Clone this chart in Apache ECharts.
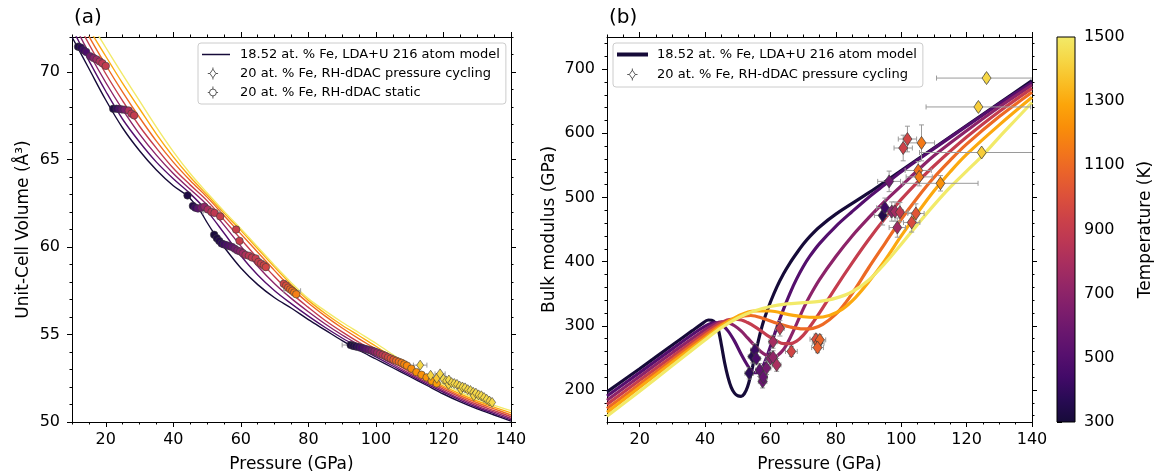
<!DOCTYPE html>
<html>
<head>
<meta charset="utf-8">
<title>Unit-cell volume and bulk modulus vs pressure</title>
<script src="https://cdn.jsdelivr.net/npm/echarts@6/dist/echarts.min.js"></script>
<style>
  html, body { margin: 0; padding: 0; background: #fff; }
  #main { width: 1158px; height: 476px; }
</style>
</head>
<body>
<div id="main"></div>
<script>
// model isotherm temperatures (K)
var temps = [300, 500, 700, 900, 1100, 1300, 1500];

// (a) LDA+U model isotherms, [P (GPa), V (Å^3)]
var volIso300 = [[10,72.0],[15,70.2],[20,68.4],[25,66.8],[30,65.5],[35,64.4],[40,63.5],[44,62.95],[46,62.55],[48,62.05],[50,61.4],[52,60.8],[55,60.0],[60,58.8],[65,57.85],[70,57.1],[75,56.5],[80,55.85],[85,55.25],[90,54.65],[95,54.1],[100,53.6],[105,53.1],[110,52.6],[115,52.1],[120,51.6],[125,51.15],[130,50.75],[135,50.4],[140,50.05]];
var volIso500 = [[10,72.5],[15,70.65],[20,68.9],[25,67.3],[30,66.0],[35,64.85],[40,63.9],[45,63.05],[50,62.05],[55,60.8],[60,59.5],[65,58.4],[70,57.5],[75,56.75],[80,56.05],[85,55.4],[90,54.8],[95,54.25],[100,53.72],[105,53.2],[110,52.68],[115,52.18],[120,51.7],[125,51.24],[130,50.83],[135,50.48],[140,50.12]];
var volIso700 = [[10,72.95],[15,71.1],[20,69.4],[25,67.85],[30,66.45],[35,65.25],[40,64.2],[45,63.3],[50,62.4],[55,61.25],[60,60.05],[65,58.9],[70,57.9],[75,57.05],[80,56.3],[85,55.6],[90,54.97],[95,54.4],[100,53.85],[105,53.3],[110,52.77],[115,52.26],[120,51.78],[125,51.32],[130,50.91],[135,50.56],[140,50.2]];
var volIso900 = [[10,73.45],[15,71.6],[20,69.9],[25,68.35],[30,66.9],[35,65.65],[40,64.5],[45,63.55],[50,62.65],[55,61.55],[60,60.45],[65,59.35],[70,58.3],[75,57.35],[80,56.55],[85,55.8],[90,55.15],[95,54.55],[100,54.0],[105,53.43],[110,52.87],[115,52.35],[120,51.87],[125,51.41],[130,51.0],[135,50.65],[140,50.3]];
var volIso1100 = [[10,73.95],[15,72.05],[20,70.4],[25,68.85],[30,67.4],[35,66.05],[40,64.85],[45,63.8],[50,62.85],[55,61.8],[60,60.75],[65,59.7],[70,58.65],[75,57.65],[80,56.8],[85,56.05],[90,55.37],[95,54.75],[100,54.17],[105,53.57],[110,52.98],[115,52.45],[120,51.96],[125,51.5],[130,51.1],[135,50.75],[140,50.4]];
var volIso1300 = [[10,74.4],[15,72.5],[20,70.9],[25,69.35],[30,67.9],[35,66.45],[40,65.15],[45,64.0],[50,62.98],[55,61.95],[60,60.95],[65,59.9],[70,58.85],[75,57.85],[80,56.95],[85,56.2],[90,55.53],[95,54.93],[100,54.33],[105,53.7],[110,53.08],[115,52.55],[120,52.05],[125,51.6],[130,51.2],[135,50.85],[140,50.52]];
var volIso1500 = [[10,74.9],[15,73.0],[20,71.4],[25,69.85],[30,68.35],[35,66.85],[40,65.45],[45,64.2],[50,63.1],[55,62.05],[60,61.05],[65,60.0],[70,58.95],[75,57.95],[80,57.05],[85,56.35],[90,55.7],[95,55.1],[100,54.5],[105,53.85],[110,53.2],[115,52.65],[120,52.15],[125,51.7],[130,51.3],[135,50.95],[140,50.65]];

// (b) LDA+U model isotherms, [P (GPa), K (GPa)]
var kIso300 = [[10,197],[20,233],[30,270],[36,292],[39,303],[41,309],[42,308.5],[43,305],[44,295],[45,270],[46,242],[47,220],[48,204],[49,195],[50,191],[51,190],[52,194],[53,205],[54,224],[55,247],[56,270],[57,291],[58,309],[60,337],[62,361],[64,381],[66,398],[68,413],[70,427],[72,439],[75,454],[80,474],[90,507],[100,542],[110,577],[120,612],[130,647],[140,682]];
var kIso500 = [[10,190.5],[20,227],[30,264],[38,293],[41,302],[43,305],[45,302],[47,292],[49,276],[51,256],[53,238],[54,231],[55,227],[56,227],[57,231],[58,240],[59,253],[60,268],[62,298],[64,326],[66,351],[68,373],[70,392],[72,408],[75,428],[80,455],[85,478],[90,500],[95,520],[100,540],[110,576],[120,611],[130,646],[140,679]];
var kIso700 = [[10,184],[20,221],[30,258],[40,294],[43,303],[45,306],[47,305],[49,300],[51,292],[53,281],[55,270],[57,260],[59,253],[60,251],[61,251],[62,253],[64,263],[66,281],[68,303],[70,326],[72,346],[75,372],[80,408],[85,440],[90,468],[95,494],[100,518],[105,542],[110,565],[120,604],[130,641],[140,675]];
var kIso900 = [[10,177.5],[20,215],[30,252],[40,289],[45,305],[48,310],[50,310],[53,305],[56,296],[59,285],[62,276],[64,272],[66,272],[68,276],[70,285],[72,298],[75,320],[80,360],[85,398],[90,434],[95,467],[100,497],[105,524],[110,549],[120,594],[130,634],[140,670]];
var kIso1100 = [[10,171],[20,209],[30,247],[40,285],[45,302],[50,313],[54,316],[58,311],[62,304],[66,298],[70,295],[73,296],[76,302],[80,318],[83,336],[86,358],[90,390],[95,428],[100,466],[105,500],[110,531],[115,558],[120,583],[130,626],[140,664]];
var kIso1300 = [[10,165],[20,204],[30,243],[40,281],[45,300],[50,315],[55,323],[60,323],[65,318],[70,314],[74,313],[78,316],[82,326],[86,344],[90,368],[95,402],[100,440],[105,476],[110,510],[115,540],[120,567],[130,613],[140,656]];
var kIso1500 = [[10,159],[20,198],[30,238],[40,278],[45,297],[50,312],[55,323],[60,330],[65,334],[70,336],[75,338],[80,343],[85,353],[90,371],[95,397],[100,427],[105,458],[110,488],[115,516],[120,541],[125,566],[130,594],[135,621],[140,648]];

// (a) RH-dDAC static runs, [P, V, T (K), dP]
var vStatic = [
  [11.8,71.45,330,0],[12.6,71.4,380,0],[13.4,71.25,430,0],[14.2,71.15,480,0],[15.4,70.9,600,0],[16.4,70.8,680,0],[17.3,70.72,760,0],[18.2,70.6,820,0],[19.0,70.5,870,0],[20.0,70.35,900,0],
  [22.2,67.9,330,0],[23.2,67.9,400,0],[24.0,67.88,480,0],[24.8,67.86,560,0],[25.6,67.85,640,0],[26.8,67.8,820,0],[27.6,67.62,860,0],[28.4,67.52,900,0],
  [44.2,62.95,330,0],[45.8,62.35,350,0],[46.5,62.25,420,0],[47.3,62.2,520,0],[48.3,62.25,620,0],[49.2,62.3,720,0],[50.2,62.15,800,0],[51.3,62.0,860,2.5],[52.2,61.95,880,0],[53.9,61.75,900,0],
  [58.6,61.0,920,0],[59.6,60.35,920,0],
  [52.1,60.7,310,0],[52.9,60.5,330,0],[53.6,60.35,350,0],[54.3,60.2,380,0],[55.0,60.15,420,0],[55.8,60.1,460,0],[56.6,60.05,500,0],[57.4,60.0,540,0],[58.2,59.9,600,0],[59.0,59.8,650,0],[59.8,59.75,700,0],[60.6,59.65,760,0],[61.4,59.55,820,0],[62.4,59.5,860,0],[63.3,59.4,880,0],[64.4,59.35,900,0],[65.2,59.15,910,0],[66.0,59.05,920,0],[66.8,58.95,940,0],[67.4,58.85,950,0],
  [72.7,57.9,950,0],[73.4,57.8,990,0],[74.0,57.68,1040,0],[74.6,57.58,1090,0],[75.2,57.5,1120,2.5],[75.8,57.4,1150,0],[76.4,57.3,1170,0],
  [92.5,54.4,310,2.5],[93.3,54.35,330,0],[94.0,54.32,360,0],[94.8,54.28,400,0],[95.6,54.24,440,0],[96.4,54.2,480,0],[97.2,54.16,530,0],[98.0,54.12,580,0],[98.8,54.08,640,0],[99.6,54.03,700,0],[100.4,53.97,760,0],[101.2,53.9,820,0],[102.0,53.84,870,0],[102.8,53.78,910,0],[103.6,53.7,960,0],[104.4,53.63,1000,0],[105.2,53.56,1050,0],[106.0,53.5,1090,0],[106.8,53.44,1120,0],[107.6,53.38,1160,0],[108.4,53.3,1190,0],[109.2,53.22,1200,0],
  [110.5,53.05,1210,0],[112.0,52.85,1220,0],[113.5,52.7,1230,0],[115.0,52.55,1240,0],[116.5,52.35,1250,0],[118.0,52.2,1260,0]
];

// (a) RH-dDAC pressure cycling, [P, V, T (K), dP]
var vCycling = [
  [113.1,53.25,1430,2],[116.2,52.67,1420,0],[118.0,52.5,1380,0],[119.0,52.75,1430,1.5],[120.0,52.45,1440,0],[120.8,52.35,1420,0],[121.5,52.15,1420,0],[121.6,52.4,1440,0],[122.4,52.25,1430,0],[123.2,52.2,1440,0],[124.0,52.15,1420,0],[124.8,52.05,1440,0],[125.2,51.85,1430,0],[125.6,52.0,1430,0],[126.4,51.95,1440,0],[127.2,51.85,1420,0],[128.0,51.8,1440,0],[128.8,51.7,1430,0],[129.0,51.5,1420,0],[129.6,51.65,1440,0],[130.4,51.55,1420,0],[131.2,51.5,1440,0],[132.0,51.4,1430,0],[132.8,51.3,1440,0],[133.6,51.2,1430,0],[134.4,51.12,1440,0]
];

// (b) RH-dDAC pressure cycling, [P, K, T (K), dP, dK]
var kCycling = [
  [53.5,226,380,1.3,9],[54.5,252,360,1.3,10],[55.2,262,420,1.3,10],[55.7,249,470,1.3,10],[56.7,231,540,1.3,10],[57.6,213,580,1.3,10],[57.8,220,560,1.3,10],[58.8,234,620,1.3,10],[60.0,249,680,1.3,10],[60.8,251,720,1.3,10],[61.9,239,800,1.3,10],[60.8,275,780,1.3,10],[62.9,296,900,1.3,12],[66.4,260,950,1.8,8],
  [73.9,279,1000,1.8,8],[74.6,273,1050,1.8,8],[75.1,278,1080,1.8,8],[74.4,266,1060,1.8,8],
  [94.3,472,350,2.5,15],[95.0,484,430,2.5,15],[96.3,525,600,3.5,16],[97.1,478,700,2.5,15],[98.1,478,780,2.5,15],[98.8,453,760,2.5,15],[99.6,477,880,2.5,15],[103.2,461,980,2.5,15],[104.5,475,1020,2.5,15],
  [100.6,577,930,2.8,20],[101.9,591,950,2.8,20],[106.2,585,1150,4.0,28],[105.2,542,1120,4.0,14],[105.5,532,1160,4.0,14],[112.0,522,1230,11.5,12],
  [126.1,686,1430,15.3,6],[123.6,641,1400,16,6],[124.6,570,1400,19,5]
];

// axis ticks
var xMajor = [20, 40, 60, 80, 100, 120, 140];
var yMajorA = [50, 55, 60, 65, 70];
var yMajorB = [200, 300, 400, 500, 600, 700];
var cbTicks = [300, 500, 700, 900, 1100, 1300, 1500];

// inferno, sampled from 0.10 to 0.95
var cmapStops = ['#160b39','#280b54','#420a68','#57106e','#6a176e','#7f1e6c','#932667','#a82e5f','#bc3754','#cc4248','#dd513a','#ea632a','#f37819','#f98e09','#fca50a','#f9bf26','#f6d746','#f2ea69'];

var FONT = 'DejaVu Sans';

function range(a, b, step) {
  var out = [];
  for (var v = a; v <= b + 1e-9; v += step) out.push(+v.toFixed(4));
  return out;
}
function hexRgb(h) {
  return [parseInt(h.substr(1, 2), 16), parseInt(h.substr(3, 2), 16), parseInt(h.substr(5, 2), 16)];
}
function tempColor(T) {
  var n = cmapStops.length;
  var f = Math.max(0, Math.min(1, (T - 300) / 1200)) * (n - 1);
  var i = Math.min(Math.floor(f), n - 2), u = f - i;
  var a = hexRgb(cmapStops[i]), b = hexRgb(cmapStops[i + 1]);
  return 'rgb(' + [0, 1, 2].map(function (k) { return Math.round(a[k] + (b[k] - a[k]) * u); }).join(',') + ')';
}
function plainNum(v) { return String(v); }

// one axis per side carrying the major ticks (and labels), one more for minor ticks
function sideAxes(gridIndex, pos, min, max, major, minor, extra) {
  var tickStyle = { color: '#000', width: 1 };
  var main = {
    type: 'value', gridIndex: gridIndex, position: pos, min: min, max: max,
    axisLine: { show: true, onZero: false, lineStyle: tickStyle },
    axisTick: { show: true, inside: false, length: 5, customValues: major, lineStyle: tickStyle },
    axisLabel: { show: false },
    splitLine: { show: false }
  };
  if (extra) Object.assign(main, extra);
  var sub = {
    type: 'value', gridIndex: gridIndex, position: pos, min: min, max: max,
    axisLine: { show: false, onZero: false },
    axisTick: { show: true, inside: false, length: 2.5, customValues: minor, lineStyle: tickStyle },
    axisLabel: { show: false },
    splitLine: { show: false }
  };
  return [main, sub];
}

function labelled(major, margin, name, nameGap, rotate) {
  return {
    axisLabel: { show: true, customValues: major, formatter: plainNum, fontSize: 16, color: '#000', fontFamily: FONT, margin: margin },
    name: name, nameLocation: 'middle', nameGap: nameGap, nameRotate: rotate,
    nameTextStyle: { fontSize: 17, color: '#000', fontFamily: FONT }
  };
}

var xMinor = range(10, 140, 5);
var xAxes = []
  .concat(sideAxes(0, 'bottom', 10, 140, xMajor, xMinor, labelled(xMajor, 10, 'Pressure (GPa)', 34, 0)))
  .concat(sideAxes(0, 'top', 10, 140, xMajor, xMinor))
  .concat(sideAxes(1, 'bottom', 10, 140, xMajor, xMinor, labelled(xMajor, 10, 'Pressure (GPa)', 34, 0)))
  .concat(sideAxes(1, 'top', 10, 140, xMajor, xMinor));
xAxes.push({ type: 'value', gridIndex: 2, min: 0, max: 1, show: false });

var yAxes = []
  .concat(sideAxes(0, 'left', 50, 72, yMajorA, range(50, 72, 1), labelled(yMajorA, 12, 'Unit-Cell Volume (Å³)', 40, 90)))
  .concat(sideAxes(0, 'right', 50, 72, yMajorA, range(50, 72, 1)))
  .concat(sideAxes(1, 'left', 150, 750, yMajorB, range(160, 740, 20), labelled(yMajorB, 12, 'Bulk modulus (GPa)', 49, 90)))
  .concat(sideAxes(1, 'right', 150, 750, yMajorB, range(160, 740, 20)));
yAxes.push({
  type: 'value', gridIndex: 2, position: 'right', min: 300, max: 1500,
  axisLine: { show: false },
  axisTick: { show: true, length: 5, customValues: cbTicks, lineStyle: { color: '#000', width: 1 } },
  axisLabel: { show: true, customValues: cbTicks, formatter: plainNum, fontSize: 16, color: '#000', fontFamily: FONT, margin: 9 },
  splitLine: { show: false },
  name: 'Temperature (K)', nameLocation: 'middle', nameGap: 62, nameRotate: 90,
  nameTextStyle: { fontSize: 17, color: '#000', fontFamily: FONT }
});

function errorBars(params, api) {
  var x = api.value(0), y = api.value(1), dx = api.value(2), dy = api.value(3);
  var st = { stroke: '#9a9a9a', lineWidth: 1 };
  var cap = 2.5, kids = [];
  if (dx > 0) {
    var l = api.coord([x - dx, y]), r = api.coord([x + dx, y]);
    kids.push({ type: 'line', shape: { x1: l[0], y1: l[1], x2: r[0], y2: r[1] }, style: st });
    kids.push({ type: 'line', shape: { x1: l[0], y1: l[1] - cap, x2: l[0], y2: l[1] + cap }, style: st });
    kids.push({ type: 'line', shape: { x1: r[0], y1: r[1] - cap, x2: r[0], y2: r[1] + cap }, style: st });
  }
  if (dy > 0) {
    var b = api.coord([x, y - dy]), t = api.coord([x, y + dy]);
    kids.push({ type: 'line', shape: { x1: b[0], y1: b[1], x2: t[0], y2: t[1] }, style: st });
    kids.push({ type: 'line', shape: { x1: b[0] - cap, y1: b[1], x2: b[0] + cap, y2: b[1] }, style: st });
    kids.push({ type: 'line', shape: { x1: t[0] - cap, y1: t[1], x2: t[0] + cap, y2: t[1] }, style: st });
  }
  return { type: 'group', children: kids };
}

function markerColor(p) { return tempColor(p.value[2]); }

var volIsos = [volIso300, volIso500, volIso700, volIso900, volIso1100, volIso1300, volIso1500];
var kIsos = [kIso300, kIso500, kIso700, kIso900, kIso1100, kIso1300, kIso1500];

var series = [];
volIsos.forEach(function (d, i) {
  series.push({
    name: 'V ' + temps[i] + ' K', type: 'line', xAxisIndex: 0, yAxisIndex: 0, data: d,
    symbol: 'none', smooth: 0.35, color: tempColor(temps[i]),
    lineStyle: { width: 1.4 }, z: 2, silent: true
  });
});
series.push({
  name: 'vErr', type: 'custom', xAxisIndex: 0, yAxisIndex: 0, clip: true, z: 3, silent: true,
  renderItem: errorBars,
  data: vStatic.concat(vCycling).filter(function (r) { return r[3] > 0; }).map(function (r) { return [r[0], r[1], r[3], 0]; })
});
series.push({
  name: 'vStatic', type: 'scatter', xAxisIndex: 0, yAxisIndex: 0, z: 4, silent: true,
  data: vStatic.map(function (r) { return [r[0], r[1], r[2]]; }),
  symbol: 'circle', symbolSize: 7.5,
  itemStyle: { color: markerColor, borderColor: '#3a3a3a', borderWidth: 0.6, opacity: 1 }
});
series.push({
  name: 'vCycling', type: 'scatter', xAxisIndex: 0, yAxisIndex: 0, z: 4, silent: true,
  data: vCycling.map(function (r) { return [r[0], r[1], r[2]]; }),
  symbol: 'diamond', symbolSize: [7, 10],
  itemStyle: { color: markerColor, borderColor: '#3a3a3a', borderWidth: 0.6, opacity: 1 }
});

kIsos.forEach(function (d, i) {
  series.push({
    name: 'K ' + temps[i] + ' K', type: 'line', xAxisIndex: 4, yAxisIndex: 4, data: d,
    symbol: 'none', smooth: 0.35, color: tempColor(temps[i]),
    lineStyle: { width: 3.2 }, z: 2, silent: true
  });
});
series.push({
  name: 'kErr', type: 'custom', xAxisIndex: 4, yAxisIndex: 4, clip: true, z: 3, silent: true,
  renderItem: errorBars,
  data: kCycling.map(function (r) { return [r[0], r[1], r[3], r[4]]; })
});
series.push({
  name: 'kCycling', type: 'scatter', xAxisIndex: 4, yAxisIndex: 4, z: 4, silent: true,
  data: kCycling.map(function (r) { return [r[0], r[1], r[2]]; }),
  symbol: 'diamond', symbolSize: [9, 13],
  itemStyle: { color: markerColor, borderColor: '#3a3a3a', borderWidth: 0.7, opacity: 1 }
});

// colour bar
series.push({
  name: 'colorbar', type: 'custom', xAxisIndex: 8, yAxisIndex: 8, silent: true,
  data: [[300, 1500]],
  renderItem: function (params, api) {
    var lo = api.coord([0, api.value(0)]), hi = api.coord([1, api.value(1)]);
    var stops = cmapStops.map(function (c, i) { return { offset: i / (cmapStops.length - 1), color: c }; });
    return {
      type: 'rect',
      shape: { x: lo[0], y: hi[1], width: hi[0] - lo[0], height: lo[1] - hi[1] },
      style: { fill: new echarts.graphic.LinearGradient(0, 1, 0, 0, stops), stroke: '#000', lineWidth: 1 }
    };
  }
});

// legend-only entries
var navy = tempColor(300);
series.push({ name: 'aLine', type: 'line', xAxisIndex: 0, yAxisIndex: 0, data: [], color: navy });
series.push({ name: 'aCyc', type: 'scatter', xAxisIndex: 0, yAxisIndex: 0, data: [] });
series.push({ name: 'aStatic', type: 'scatter', xAxisIndex: 0, yAxisIndex: 0, data: [] });
series.push({ name: 'bLine', type: 'line', xAxisIndex: 4, yAxisIndex: 4, data: [], color: navy });
series.push({ name: 'bCyc', type: 'scatter', xAxisIndex: 4, yAxisIndex: 4, data: [] });

var legendText = {
  aLine: '18.52 at. % Fe, LDA+U 216 atom model',
  aCyc: '20 at. % Fe, RH-dDAC pressure cycling',
  aStatic: '20 at. % Fe, RH-dDAC static',
  bLine: '18.52 at. % Fe, LDA+U 216 atom model',
  bCyc: '20 at. % Fe, RH-dDAC pressure cycling'
};
var openMarker = { color: '#fff', borderColor: '#333', borderWidth: 1 };
var diamondIcon = function (cx, w) {
  return 'path://M0,0M' + w + ',0M' + cx + ',-7L' + cx + ',-5M' + cx + ',5L' + cx + ',7M' + (cx - 6) + ',0L' + (cx - 3.5) + ',0M' + (cx + 3.5) + ',0L' + (cx + 6) + ',0' +
    'M' + cx + ',-5L' + (cx + 3.5) + ',0L' + cx + ',5L' + (cx - 3.5) + ',0Z';
};
var circleIcon = function (cx, w) {
  return 'path://M0,0M' + w + ',0M' + cx + ',-7L' + cx + ',-4M' + cx + ',4L' + cx + ',7M' + (cx - 6) + ',0L' + (cx - 4) + ',0M' + (cx + 4) + ',0L' + (cx + 6) + ',0' +
    'M' + (cx + 4) + ',0A4,4 0 1 1 ' + (cx - 4) + ',0A4,4 0 1 1 ' + (cx + 4) + ',0Z';
};
var legendBase = {
  orient: 'vertical', itemHeight: 12, itemGap: 4, selectedMode: false,
  formatter: function (n) { return legendText[n]; },
  textStyle: { fontSize: 13, color: '#000', fontFamily: FONT, lineHeight: 15 },
  borderColor: '#cccccc', borderWidth: 1, borderRadius: 3, backgroundColor: 'rgba(255,255,255,0.85)'
};

var option = {
  animation: false,
  backgroundColor: '#fff',
  title: [
    { text: '(a)', left: 69, top: 3, textStyle: { fontSize: 20, fontWeight: 'normal', color: '#000', fontFamily: FONT } },
    { text: '(b)', left: 604, top: 3, textStyle: { fontSize: 20, fontWeight: 'normal', color: '#000', fontFamily: FONT } }
  ],
  grid: [
    { left: 72, top: 37, width: 439, height: 385, outerBoundsMode: 'none' },
    { left: 607, top: 37, width: 425, height: 385, outerBoundsMode: 'none' },
    { left: 1057, top: 37, width: 18, height: 385, outerBoundsMode: 'none' }
  ],
  xAxis: xAxes,
  yAxis: yAxes,
  legend: [
    Object.assign({}, legendBase, {
      left: 198, top: 43, itemWidth: 33, padding: [4, 6, 4, 4],
      data: [
        { name: 'aLine', icon: 'path://M0,0M33,0M0,-0.75L28,-0.75L28,0.75L0,0.75Z', itemStyle: { color: navy, borderWidth: 0 } },
        { name: 'aCyc', icon: diamondIcon(10, 33), itemStyle: openMarker },
        { name: 'aStatic', icon: circleIcon(10, 33), itemStyle: openMarker }
      ]
    }),
    Object.assign({}, legendBase, {
      left: 613, top: 43, itemWidth: 35, itemGap: 5, padding: [4, 6, 5, 4],
      data: [
        { name: 'bLine', icon: 'path://M0,0M35,0M0,-2L31,-2L31,2L0,2Z', itemStyle: { color: navy, borderWidth: 0 } },
        { name: 'bCyc', icon: diamondIcon(15, 35), itemStyle: openMarker }
      ]
    })
  ],
  series: series
};

var chart = echarts.init(document.getElementById('main'));
chart.setOption(option);
window.addEventListener('resize', function () { chart.resize(); });
</script>
</body>
</html>
